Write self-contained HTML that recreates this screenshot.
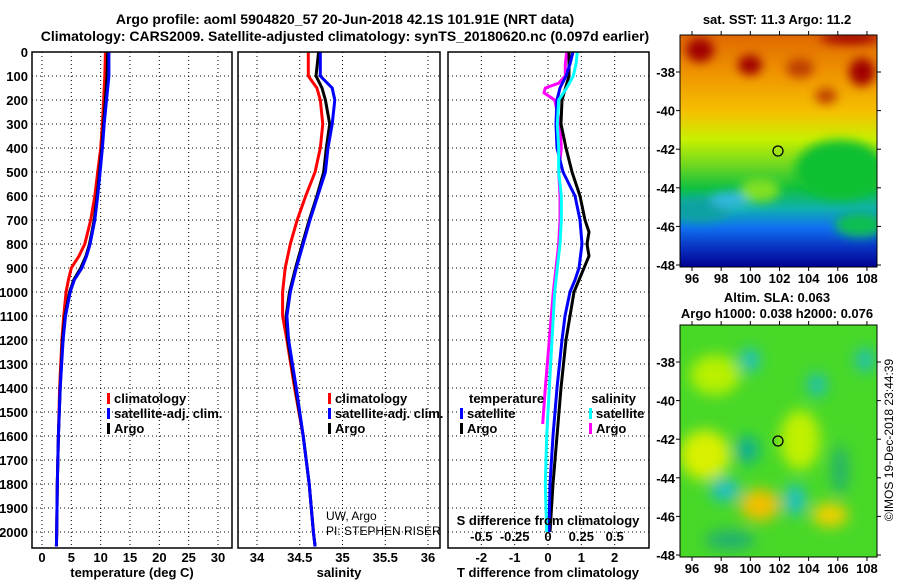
<!DOCTYPE html>
<html><head><meta charset="utf-8"><style>
body{margin:0;background:#fff;width:900px;height:580px;overflow:hidden}
svg{display:block;font-family:"Liberation Sans",sans-serif}
.b{font-weight:bold;font-size:13px}
</style></head><body>
<svg id="c" width="900" height="580" xmlns="http://www.w3.org/2000/svg">
<defs>
<linearGradient id="sstg" x1="0" y1="0" x2="0" y2="1">
<stop offset="0" stop-color="#e06800"/><stop offset="0.18" stop-color="#f09800"/>
<stop offset="0.33" stop-color="#f5c000"/><stop offset="0.45" stop-color="#c8f000"/>
<stop offset="0.56" stop-color="#70d820"/><stop offset="0.66" stop-color="#10c040"/>
<stop offset="0.75" stop-color="#10b0b0"/><stop offset="0.83" stop-color="#1070f0"/>
<stop offset="0.92" stop-color="#0830c0"/><stop offset="1" stop-color="#000090"/>
</linearGradient>
<filter id="bl"><feGaussianBlur stdDeviation="5"/></filter>
<filter id="bl2"><feGaussianBlur stdDeviation="7"/></filter>
<clipPath id="m1"><rect x="680" y="35" width="197" height="232"/></clipPath>
<clipPath id="m2"><rect x="680" y="325" width="197" height="232"/></clipPath>
</defs>
<text x="345" y="24" text-anchor="middle" class="b" style="font-size:14px">Argo profile: aoml 5904820_57 20-Jun-2018 42.1S 101.91E (NRT data)</text>
<text x="345" y="41" text-anchor="middle" class="b" style="font-size:14px">Climatology: CARS2009. Satellite-adjusted climatology: synTS_20180620.nc (0.097d earlier)</text>
<g id="maps">
<g clip-path="url(#m1)">
<rect x="680" y="35" width="197" height="232" fill="url(#sstg)"/>
<g filter="url(#bl)">
<ellipse cx="840" cy="170" rx="45" ry="30" fill="#10c030"/>
<ellipse cx="700" cy="210" rx="30" ry="12" fill="#10a0a0"/>
<ellipse cx="730" cy="200" rx="20" ry="8" fill="#30b8e0"/>
<ellipse cx="760" cy="190" rx="20" ry="12" fill="#80e020"/>
<ellipse cx="860" cy="225" rx="25" ry="12" fill="#10c050"/>
<ellipse cx="700" cy="50" rx="14" ry="12" fill="#a00000"/>
<ellipse cx="750" cy="65" rx="12" ry="10" fill="#a00000"/>
<ellipse cx="800" cy="68" rx="14" ry="10" fill="#c04000"/>
<ellipse cx="862" cy="72" rx="13" ry="14" fill="#a00000"/>
<ellipse cx="826" cy="96" rx="11" ry="8" fill="#c04000"/>
<ellipse cx="850" cy="38" rx="30" ry="6" fill="#a00000"/>
</g>
<circle cx="778" cy="151" r="5" fill="none" stroke="#000" stroke-width="1.3"/>
</g>
<g clip-path="url(#m2)">
<rect x="680" y="325" width="197" height="232" fill="#48d828"/>
<g filter="url(#bl2)">
<ellipse cx="715" cy="375" rx="25" ry="20" fill="#b8f000"/>
<ellipse cx="705" cy="455" rx="25" ry="25" fill="#d8f000"/>
<ellipse cx="760" cy="505" rx="20" ry="16" fill="#f0c000"/>
<ellipse cx="830" cy="515" rx="18" ry="12" fill="#f0d000"/>
<ellipse cx="800" cy="440" rx="20" ry="30" fill="#c0f000"/>
<ellipse cx="750" cy="360" rx="10" ry="12" fill="#20c0c0"/>
<ellipse cx="817" cy="385" rx="10" ry="12" fill="#20c0b0"/>
<ellipse cx="865" cy="360" rx="10" ry="12" fill="#20c0b0"/>
<ellipse cx="747" cy="450" rx="12" ry="14" fill="#10b090"/>
<ellipse cx="725" cy="490" rx="15" ry="12" fill="#20c0c0"/>
<ellipse cx="795" cy="500" rx="11" ry="16" fill="#20c0c0"/>
<ellipse cx="840" cy="470" rx="8" ry="25" fill="#20b070"/>
<ellipse cx="730" cy="540" rx="25" ry="10" fill="#20b070"/>
</g>
<circle cx="778" cy="441" r="5" fill="none" stroke="#000" stroke-width="1.3"/>
</g>
<text x="777" y="24" text-anchor="middle" class="b">sat. SST: 11.3 Argo: 11.2</text>
<text x="777" y="302" text-anchor="middle" class="b">Altim. SLA: 0.063</text>
<text x="777" y="318" text-anchor="middle" class="b">Argo h1000: 0.038 h2000: 0.076</text>
<text transform="translate(893,440) rotate(-90)" text-anchor="middle" font-size="12">©IMOS 19-Dec-2018 23:44:39</text>
</g>
</svg>
<script>
const depthTicks=[0,100,200,300,400,500,600,700,800,900,1000,1100,1200,1300,1400,1500,1600,1700,1800,1900,2000];
const tempTicks=[0,5,10,15,20,25,30];
const salTicks=[34,34.5,35,35.5,36];
const tdiffTicks=[-2,-1,0,1,2];
const sdiffTicks=[-0.5,-0.25,0,0.25,0.5];
const lonTicks=[96,98,100,102,104,106,108];
const latTicks=[-38,-40,-42,-44,-46,-48];

const tDepth=[0,100,200,300,400,500,600,700,800,850,900,950,1000,1100,1200,1400,1600,1800,2000,2060];
const tClim=[10.8,10.7,10.5,10.3,10.0,9.5,9.0,8.3,7.3,6.3,5.0,4.5,4.1,3.7,3.4,3.0,2.8,2.6,2.5,2.45];
const tSat=[11.4,11.4,11.0,10.6,10.3,9.9,9.5,9.0,8.2,7.6,6.8,5.5,4.8,4.0,3.6,3.1,2.8,2.6,2.5,2.45];
const tArgo=[11.2,11.1,10.8,10.5,10.2,9.8,9.4,8.9,8.1,7.5,6.6,5.4,4.7,3.9,3.5,3.1,2.8,2.6,2.5,2.45];

const sDepth=[0,100,150,200,300,400,500,600,700,800,900,1000,1100,1200,1400,1600,1800,2000,2060];
const sClim=[34.60,34.60,34.70,34.74,34.77,34.74,34.68,34.57,34.47,34.39,34.33,34.30,34.30,34.35,34.44,34.54,34.61,34.66,34.68];
const sSat=[34.74,34.74,34.88,34.91,34.88,34.83,34.80,34.71,34.62,34.54,34.46,34.39,34.35,34.37,34.46,34.54,34.61,34.66,34.68];
const sArgo=[34.72,34.69,34.76,34.80,34.85,34.81,34.78,34.70,34.61,34.53,34.45,34.38,34.34,34.36,34.45,34.54,34.61,34.66,34.68];

const dtSDepth=[0,50,100,150,200,300,400,500,600,700,800,900,950,1000,1100,1200,1400,1600,1800,2000];
const dtSat=[0.75,0.66,0.54,0.36,0.27,0.24,0.27,0.45,0.81,0.96,1.02,0.93,0.81,0.66,0.51,0.42,0.27,0.15,0.06,0.03];
const dtADepth=[0,100,200,300,400,500,600,700,750,800,850,900,1000,1100,1200,1400,1600,1800,2000];
const dtArgo=[0.63,0.63,0.42,0.39,0.54,0.72,0.96,1.11,1.23,1.17,1.23,1.08,0.78,0.66,0.54,0.39,0.27,0.15,0.06];
const dsSDepth=[0,50,100,150,200,300,400,500,600,700,800,900,1000,1200,1400,1600,1800,2000];
const dsSat=[0.22,0.21,0.19,0.14,0.08,0.07,0.08,0.08,0.10,0.10,0.09,0.07,0.05,0.03,0.01,-0.01,-0.02,-0.01];
const dsADepth=[0,50,100,130,150,170,200,300,400,500,600,700,800,900,1000,1200,1400,1550];
const dsArgo=[0.14,0.13,0.13,0.08,-0.02,-0.03,0.05,0.09,0.10,0.08,0.09,0.09,0.08,0.06,0.04,0.01,-0.02,-0.04];

const NS='http://www.w3.org/2000/svg';
const svg=document.getElementById('c');
function el(t,a,p){const e=document.createElementNS(NS,t);for(const k in a)e.setAttribute(k,a[k]);(p||svg).appendChild(e);return e;}
const Y=d=>52+d*0.24;
const xT=v=>42+v*5.867;
const xS=v=>257+(v-34)*85.5;
const xDT=v=>548+v*33.33;
const xDS=v=>548+v*133.3;
const TOP=52,BOT=548;

function grid(x0,x1,xs){
  const g=el('g',{});
  
  
  depthTicks.forEach(d=>{if(d>0)el('line',{x1:x0,x2:x1,y1:Y(d),y2:Y(d),stroke:'#000','stroke-dasharray':'1,3','stroke-width':1},g);});
  xs.forEach(x=>{el('line',{x1:x,x2:x,y1:TOP,y2:BOT,stroke:'#000','stroke-dasharray':'1,3','stroke-width':1},g);});
}
function frame(x0,x1,name){
  const r=el('rect',{x:x0,y:TOP,width:x1-x0,height:BOT-TOP,fill:'none',stroke:'#000','stroke-width':1.5});
  
  
}
function line(xs,ds,fx,col,name,w){
  const p=el('polyline',{points:xs.map((v,i)=>fx(v).toFixed(1)+','+Y(ds[i]).toFixed(1)).join(' '),fill:'none',stroke:col,'stroke-width':w||3});
  
  
}
function txt(x,y,s,anchor,name,cls,fs){
  const t=el('text',{x:x,y:y,'text-anchor':anchor||'start','class':cls===undefined?'b':cls});
  if(fs)t.setAttribute('font-size',fs);
  t.textContent=s;
  
  
  return t;
}
function legItem(x,y,col,s,name){
  const r=el('rect',{x:x,y:y-10,width:3,height:11,fill:col});
  
  
  txt(x+7,y,s,'start',name);
}
// panel 1
grid(32,232,tempTicks.map(xT));
line(tClim,tDepth,xT,'#f00','temp-climatology-line');
line(tArgo,tDepth,xT,'#000','temp-argo-line');
line(tSat,tDepth,xT,'#00f','temp-satellite-line');
frame(32,232,'temperature-panel');
depthTicks.forEach(d=>txt(28,Y(d)+5,String(d),'end','depth-tick-label'));
tempTicks.forEach(v=>txt(xT(v),562,String(v),'middle','temp-tick-label'));
txt(132,577,'temperature (deg C)','middle','temp-axis-title');
legItem(107,403,'#f00','climatology','legend-climatology');
legItem(107,418,'#00f','satellite-adj. clim.','legend-satellite-adj');
legItem(107,433,'#000','Argo','legend-argo');
// panel 2
grid(238,440,salTicks.map(xS));
line(sClim,sDepth,xS,'#f00','sal-climatology-line');
line(sArgo,sDepth,xS,'#000','sal-argo-line');
line(sSat,sDepth,xS,'#00f','sal-satellite-line');
frame(238,440,'salinity-panel');
salTicks.forEach(v=>txt(xS(v),562,String(v),'middle','sal-tick-label'));
txt(339,577,'salinity','middle','sal-axis-title');
legItem(328,403,'#f00','climatology','legend-climatology');
legItem(328,418,'#00f','satellite-adj. clim.','legend-satellite-adj');
legItem(328,433,'#000','Argo','legend-argo');
txt(326,520,'UW, Argo','start','data-source','',12);
txt(326,535,'PI: STEPHEN RISER','start','pi-name','',12);
// panel 3
grid(448,649,tdiffTicks.map(xDT));
line(dsArgo,dsADepth,xDS,'#f0f','sdiff-argo-line');
line(dtArgo,dtADepth,xDT,'#000','tdiff-argo-line');
line(dtSat,dtSDepth,xDT,'#00f','tdiff-satellite-line');
line(dsSat,dsSDepth,xDS,'#0ff','sdiff-satellite-line');
frame(448,649,'difference-panel');
tdiffTicks.forEach(v=>txt(xDT(v),562,String(v),'middle','tdiff-tick-label'));
txt(548,577,'T difference from climatology','middle','tdiff-axis-title');
sdiffTicks.forEach(v=>txt(xDS(v),541,String(v),'middle','sdiff-tick-label'));
txt(548,525,'S difference from climatology','middle','sdiff-axis-title');
txt(469,403,'temperature','start','legend-temperature-heading');
legItem(460,418,'#00f','satellite','legend-t-satellite');
legItem(460,433,'#000','Argo','legend-t-argo');
txt(636,403,'salinity','end','legend-salinity-heading');
legItem(589,418,'#0ff','satellite','legend-s-satellite');
legItem(589,433,'#f0f','Argo','legend-s-argo');
// maps axes
const lonX=v=>692+(v-96)*14.58;
[[35,267,72,19.3],[325,557,362,19.3]].forEach((m,i)=>{
  const r=el('rect',{x:680,y:m[0],width:197,height:m[1]-m[0],fill:'none',stroke:'#000','stroke-width':1});
  
  
  lonTicks.forEach(v=>{
    el('line',{x1:lonX(v),x2:lonX(v),y1:m[0]-4,y2:m[0],stroke:'#000'});
    el('line',{x1:lonX(v),x2:lonX(v),y1:m[1],y2:m[1]+4,stroke:'#000'});
    txt(lonX(v),m[1]+16,String(v),'middle','lon-tick-label');
  });
  latTicks.forEach(v=>{
    const y=m[2]+(-38-v)*m[3];
    el('line',{x1:877,x2:881,y1:y,y2:y,stroke:'#000'});
    el('line',{x1:676,x2:680,y1:y,y2:y,stroke:'#000'});
    txt(675,y+5,String(v),'end','lat-tick-label');
  });
});
</script>
</body></html>
